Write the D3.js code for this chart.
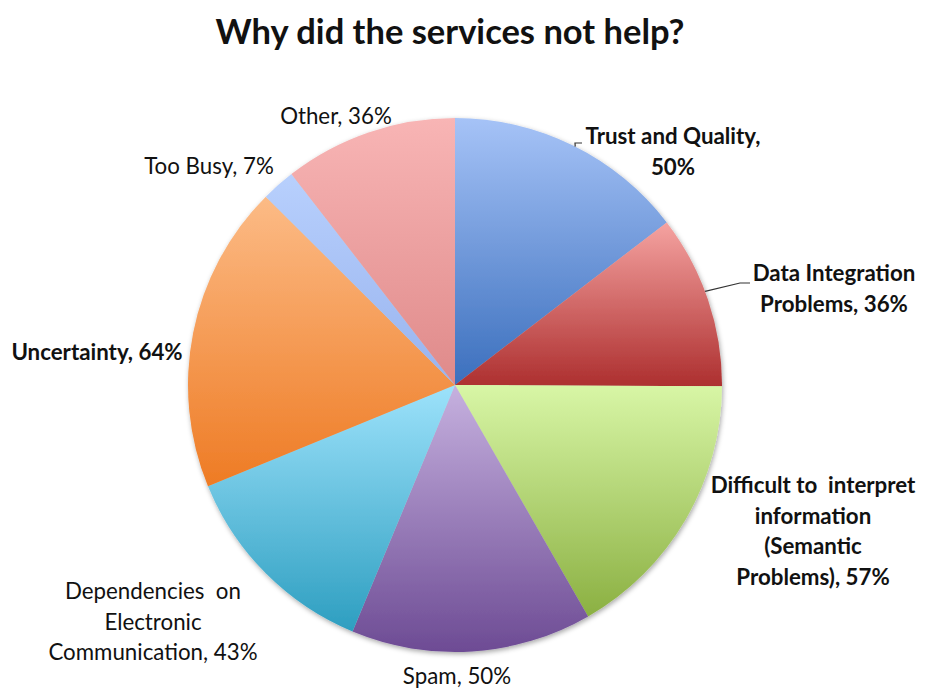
<!DOCTYPE html>
<html>
<head>
<meta charset="utf-8">
<script src="https://cdn.jsdelivr.net/npm/d3@7"></script>
<style>
  html, body { margin: 0; padding: 0; background: #fff; }
  svg { display: block; }
  text { font-family: Lato, "Open Sans", sans-serif; fill: #111; }
</style>
</head>
<body>
<svg id="chart" width="926" height="688"></svg>
<script>
// Survey answers: share of respondents naming each reason (%)
const categories = [
  "Trust and Quality",
  "Data Integration Problems",
  "Difficult to interpret information (Semantic Problems)",
  "Spam",
  "Dependencies on Electronic Communication",
  "Uncertainty",
  "Too Busy",
  "Other"
];
const values = [50, 36, 57, 50, 43, 64, 7, 36];

// How each label is broken into lines (last line carries the value)
const labelLines = [
  ["Trust and Quality,", "{v}%"],
  ["Data Integration", "Problems, {v}%"],
  ["Difficult to  interpret", "information", "(Semantic", "Problems), {v}%"],
  ["Spam, {v}%"],
  ["Dependencies  on", "Electronic", "Communication, {v}%"],
  ["Uncertainty, {v}%"],
  ["Too Busy, {v}%"],
  ["Other, {v}%"]
];
const labelBold = [true, true, true, false, false, true, false, false];

// Slice fills: light (top) to dark (bottom)
const colorTop = ["#a6c3f7", "#f5a3a1", "#d8f6a6", "#c6b1df", "#9de2fb", "#fcbb86", "#b8d0fd", "#f8b5b5"];
const colorBottom = ["#3b6fbd", "#ad2f2f", "#8bb042", "#6d4b94", "#2d9ec0", "#ee7b24", "#98b3ee", "#df8a8a"];

const width = 926, height = 688;
const cx = 455, cy = 385, radius = 267;

const svg = d3.select("#chart");
const defs = svg.append("defs");

const shadow = defs.append("filter").attr("id", "pieShadow")
  .attr("x", "-10%").attr("y", "-10%").attr("width", "120%").attr("height", "120%");
shadow.append("feDropShadow")
  .attr("dx", 1).attr("dy", 2).attr("stdDeviation", 2.5)
  .attr("flood-color", "#000").attr("flood-opacity", 0.35);

values.forEach((v, i) => {
  const g = defs.append("linearGradient").attr("id", "grad" + i)
    .attr("x1", 0).attr("y1", 0).attr("x2", 0).attr("y2", 1);
  g.append("stop").attr("offset", "0%").attr("stop-color", colorTop[i]);
  g.append("stop").attr("offset", "100%").attr("stop-color", colorBottom[i]);
});

// Title
svg.append("text")
  .attr("x", 450).attr("y", 44)
  .attr("text-anchor", "middle")
  .style("font-size", "34.5px").style("font-weight", "bold")
  .text("Why did the services not help?");

const pie = d3.pie().sort(null).value(d => d)(values);
const arc = d3.arc().innerRadius(0).outerRadius(radius);

const pieG = svg.append("g")
  .attr("transform", `translate(${cx},${cy})`)
  .attr("filter", "url(#pieShadow)");

pieG.selectAll("path.slice")
  .data(pie)
  .join("path")
  .attr("class", "slice")
  .attr("d", arc)
  .attr("fill", (d, i) => `url(#grad${i})`);

// Label placement (centre of first line) and optional leader lines
const labelAnchor = [
  [673, 144], [834, 281], [813, 493], [457, 684],
  [153, 599], [97, 360], [209, 174], [336, 124]
];
const lineGap = 30.5;

const labelsG = svg.append("g");
pie.forEach((d, i) => {
  const lines = labelLines[i].map(s => s.replace("{v}", d.data));
  const t = labelsG.append("text")
    .attr("text-anchor", "middle")
    .style("font-size", "22.3px")
    .style("font-weight", labelBold[i] ? "bold" : "normal");
  lines.forEach((s, k) => {
    t.append("tspan")
      .attr("x", labelAnchor[i][0])
      .attr("y", labelAnchor[i][1] + k * lineGap)
      .style("white-space", "pre")
      .text(s);
  });
});

// Leader lines from the slice rim to the label
function rimPoint(angle) {
  return [cx + radius * Math.sin(angle), cy - radius * Math.cos(angle)];
}
const leaders = [
  { slice: 0, frac: 0.51, via: [[575, 143], [582, 143]] },
  { slice: 1, frac: 0.45, via: [[740, 283], [750, 283]] }
];
leaders.forEach(L => {
  const d = pie[L.slice];
  const a = d.startAngle + (d.endAngle - d.startAngle) * L.frac;
  const pts = [rimPoint(a)].concat(L.via);
  svg.append("path")
    .attr("d", d3.line()(pts))
    .attr("fill", "none")
    .attr("stroke", "#333")
    .attr("stroke-width", 1.2);
});
</script>
</body>
</html>
